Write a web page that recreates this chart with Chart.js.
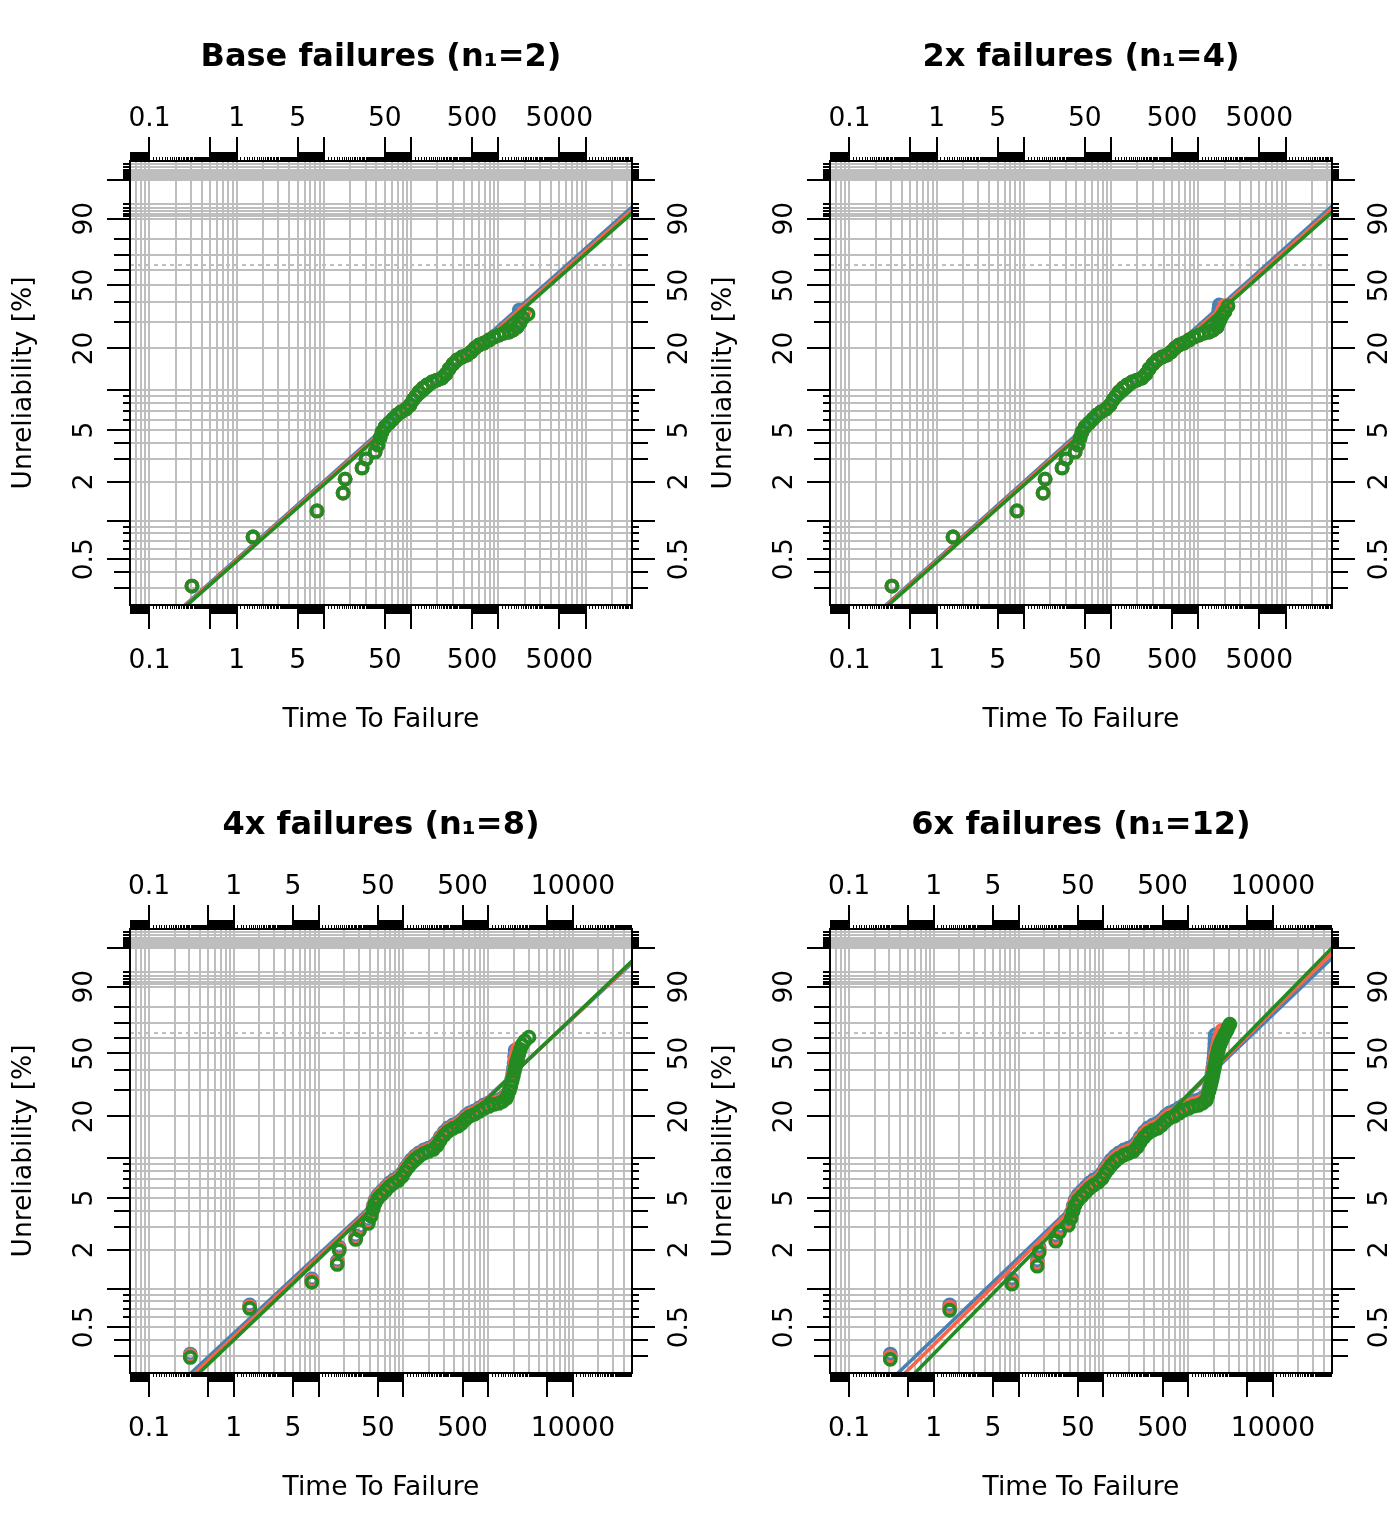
<!DOCTYPE html>
<html>
<head>
<meta charset="utf-8">
<script src="https://cdn.jsdelivr.net/npm/chart.js@4.4.1/dist/chart.umd.min.js"></script>
<style>
  html, body { margin: 0; padding: 0; background: #fff; }
  #wrap { position: relative; width: 1400px; height: 1536px; }
  #wrap canvas { position: absolute; display: block; }
</style>
</head>
<body>
<div id="wrap">
  <canvas id="c1" width="700" height="768" style="left:0;top:0"></canvas>
  <canvas id="c2" width="700" height="768" style="left:700px;top:0"></canvas>
  <canvas id="c3" width="700" height="768" style="left:0;top:768px"></canvas>
  <canvas id="c4" width="700" height="768" style="left:700px;top:768px"></canvas>
</div>
<script>
// ---- values ----
const panelTitles = ['Base failures (n\u2081=2)', '2x failures (n\u2081=4)', '4x failures (n\u2081=8)', '6x failures (n\u2081=12)'];

// x range (time) per row, and the printed x labels
const xRangeTop = [0.0598, 34100];
const xRangeBottom = [0.0597, 49700];
const xLabelsTop = [0.1, 1, 5, 50, 500, 5000];
const xLabelsBottom = [0.1, 1, 5, 50, 500, 10000];

// y axis, unreliability in %
const yLimPct = [0.22, 99.85];
const yLabels = [0.5, 2, 5, 20, 50, 90];
const yLongTicks = [0.5, 1, 2, 5, 10, 20, 50, 90, 99];
const yMidTicks = [0.3, 0.4, 3, 4, 30, 40, 60, 70, 80];
const yShortTicks = [0.6, 0.7, 0.8, 0.9, 6, 7, 8, 9, 91, 92, 93, 94, 95,
  99.1, 99.2, 99.3, 99.4, 99.5, 99.6, 99.7, 99.8];
const charLifePct = 63.2;

// failures common to all panels
const baseTime = [0.307, 1.54, 8.33, 16.6, 17.5, 27.4, 30.4, 38.6, 41.7, 44.0,
  46.4, 50.2, 55.8, 62.0, 68.9, 76.6, 87.4, 97.2, 105, 114,
  123, 137, 152, 174, 198, 226, 251, 272, 302, 336,
  384, 438, 487, 541, 601, 686, 783, 893, 1019, 1163,
  1327, 1475, 1639];
const baseF = [0.309, 0.746, 1.19, 1.64, 2.10, 2.56, 3.00, 3.40, 3.85, 4.35,
  4.83, 5.28, 5.66, 6.07, 6.51, 6.86, 7.22, 7.74, 8.44, 9.04,
  9.68, 10.36, 10.90, 11.47, 11.86, 12.27, 13.12, 14.27, 15.51, 16.56,
  17.39, 17.97, 18.87, 20.13, 21.12, 21.80, 22.86, 23.96, 24.72, 25.50,
  25.90, 26.71, 27.96];
// lower panels: the same failures sit a little lower for red / green
const p3GreenF = [0.291, 0.701, 1.119, 1.542, 1.975, 2.408, 2.823, 3.199, 3.623, 4.095,
  4.547, 4.971, 5.330, 5.717, 6.134, 6.465, 6.805, 7.298, 7.961, 8.529,
  9.134, 9.778, 10.28, 10.82, 11.19, 11.58, 12.38, 13.47, 14.65, 15.65,
  16.44, 16.99, 17.85, 19.05, 19.99, 20.64, 21.65, 22.70, 23.43, 24.17,
  24.55, 25.33, 26.53];
const p3RedF = [0.300, 0.724, 1.155, 1.591, 2.038, 2.484, 2.911, 3.300, 3.737, 4.222,
  4.689, 5.126, 5.495, 5.894, 6.323, 6.664, 7.015, 7.522, 8.204, 8.789,
  9.412, 10.07, 10.59, 11.15, 11.53, 11.93, 12.75, 13.87, 15.08, 16.11,
  16.92, 17.48, 18.36, 19.59, 20.56, 21.23, 22.26, 23.33, 24.07, 24.84,
  25.23, 26.02, 27.25];
const p4GreenF = [0.281, 0.679, 1.084, 1.494, 1.913, 2.332, 2.734, 3.099, 3.510, 3.966,
  4.405, 4.817, 5.164, 5.540, 5.944, 6.265, 6.595, 7.074, 7.717, 8.268,
  8.857, 9.481, 9.970, 10.49, 10.85, 11.23, 12.01, 13.07, 14.22, 15.19,
  15.96, 16.49, 17.33, 18.50, 19.42, 20.05, 21.04, 22.06, 22.77, 23.50,
  23.87, 24.63, 25.81];
const p4RedF = [0.295, 0.713, 1.137, 1.567, 2.007, 2.446, 2.867, 3.249, 3.680, 4.158,
  4.618, 5.049, 5.413, 5.806, 6.228, 6.564, 6.910, 7.410, 8.082, 8.659,
  9.274, 9.925, 10.44, 10.98, 11.36, 11.75, 12.57, 13.67, 14.87, 15.88,
  16.68, 17.24, 18.10, 19.32, 20.28, 20.93, 21.95, 23.02, 23.75, 24.51,
  24.89, 25.68, 26.89];

// late failures (n1 group) per panel and estimate
const p1GreenT = [1775, 1921, 2192], p1GreenF = [29.7, 32.0, 33.9];
const p1RedT = [1740, 1850, 1970], p1RedF = [30.0, 32.5, 35.0];
const p1BlueT = [1700, 1720, 1740], p1BlueF = [30.5, 33.0, 35.9];

const p2GreenT = [1700, 1780, 1870, 2020, 2190], p2GreenF = [29.5, 31.2, 33.0, 35.0, 38.0];
const p2RedT = [1690, 1750, 1820, 1900, 2000], p2RedF = [29.8, 31.8, 33.9, 36.0, 38.2];
const p2BlueT = [1660, 1680, 1700, 1720, 1740], p2BlueF = [29.9, 32.0, 34.2, 36.4, 38.6];

const p3GreenT = [1700, 1780, 1850, 1920, 1980, 2040, 2100, 2160, 2230, 2300, 2400, 2520, 2700, 3030];
const p3GreenTailF = [28.0, 29.8, 32.0, 34.5, 37.0, 39.5, 42.0, 44.5, 47.0, 49.5, 52.5, 55.5, 58.0, 60.5];
const p3RedT = [1700, 1780, 1850, 1910, 1970, 2020, 2060, 2100, 2150, 2240];
const p3RedTailF = [28.4, 30.3, 32.5, 35.0, 37.7, 40.5, 43.5, 46.8, 50.0, 53.0];
const p3BlueT = [1700, 1780, 1850, 1900, 1950, 1990, 2020, 2050, 2080];
const p3BlueTailF = [28.8, 30.8, 33.0, 35.5, 38.2, 41.0, 44.0, 48.0, 52.0];

const p4GreenT = [1700, 1760, 1820, 1870, 1920, 1960, 2000, 2040, 2080, 2120, 2160,
  2200, 2250, 2300, 2370, 2450, 2550, 2650, 2780, 2900, 3000, 3100];
const p4GreenTailF = [27.5, 29.5, 31.5, 33.5, 35.5, 37.5, 39.5, 41.5, 43.5, 45.5, 47.5,
  49.5, 51.5, 53.5, 55.5, 57.5, 59.5, 61.5, 63.5, 65.5, 67.5, 69.0];
const p4RedT = [1700, 1760, 1820, 1870, 1920, 1960, 2000, 2040, 2080, 2120, 2170, 2220, 2280, 2350, 2420, 2500];
const p4RedTailF = [28.0, 30.2, 32.5, 34.8, 37.0, 39.5, 42.0, 44.5, 47.0, 49.5, 52.0, 54.5, 57.0, 59.5, 62.0, 65.0];
const p4BlueT = [1700, 1760, 1820, 1870, 1910, 1950, 1980, 2010, 2030, 2050, 2060, 2070, 2080];
const p4BlueTailF = [28.5, 31.0, 33.5, 36.0, 38.5, 41.0, 44.0, 47.0, 50.0, 53.0, 56.0, 59.0, 62.0];

// fitted Weibull lines: [time, %] at both ends
const p1FitBlue = [[0.255, 0.22], [34100, 94.16]];
const p1FitRed = [[0.262, 0.22], [34100, 93.22]];
const p1FitGreen = [[0.270, 0.22], [34100, 92.19]];
const p2FitBlue = [[0.262, 0.22], [34100, 94.45]];
const p2FitRed = [[0.270, 0.22], [34100, 93.54]];
const p2FitGreen = [[0.280, 0.22], [34100, 92.55]];
const p3FitBlue = [[0.313, 0.22], [49700, 97.05]];
const p3FitRed = [[0.349, 0.22], [49700, 97.24]];
const p3FitGreen = [[0.389, 0.22], [49700, 97.41]];
const p4FitBlue = [[0.378, 0.22], [49700, 97.89]];
const p4FitRed = [[0.458, 0.22], [49700, 98.53]];
const p4FitGreen = [[0.600, 0.22], [49700, 99.01]];

// ---- drawing ----
Chart.defaults.font.family = "'DejaVu Sans', sans-serif";
Chart.defaults.color = '#000';

const BLUE = '#4682B4', RED = '#FF6347', GREEN = '#228B22', GRID = '#BEBEBE';
const LABEL_FONT = 26.5;

// Weibull probability transform
const wb = p => Math.log(-Math.log(1 - p / 100));

function toXY(T, F) {
  return T.map((t, i) => ({ x: t, y: wb(F[i]) }));
}

function gridX(min, max) {
  let out = [];
  for (let d = Math.floor(Math.log10(min)); d <= Math.ceil(Math.log10(max)); d++) {
    for (let m = 1; m <= 9; m++) {
      let v = m * Math.pow(10, d);
      if (v >= min && v <= max) out.push(v);
    }
  }
  return out;
}

function seg(ctx, x1, y1, x2, y2) {
  ctx.beginPath();
  ctx.moveTo(x1, y1);
  ctx.lineTo(x2, y2);
  ctx.stroke();
}

// tick marks, box and tick labels like the R plot
const probAxes = {
  id: 'probAxes',
  afterDraw(chart, args, opts) {
    const ctx = chart.ctx;
    const a = chart.chartArea;
    const xs = chart.scales.x, ys = chart.scales.y;
    ctx.save();
    ctx.strokeStyle = '#000';

    let d0 = Math.floor(Math.log10(xs.min)), d1 = Math.ceil(Math.log10(xs.max));
    for (let d = d0; d <= d1; d++) {
      for (let m = 10; m < 100; m++) {
        let t = m * Math.pow(10, d - 1);
        if (t < xs.min || t > xs.max * 1.001) continue;
        let px = xs.getPixelForValue(t);
        let len = 4, lw = 1;
        if (m === 10 || m === 50) { len = 24; lw = 2; }
        else if (m > 50) { len = 9; }
        ctx.lineWidth = lw;
        let x = lw === 1 ? Math.round(px) + 0.5 : Math.round(px);
        seg(ctx, x, a.top, x, a.top - len);
        seg(ctx, x, a.bottom, x, a.bottom + len);
      }
    }

    ctx.lineWidth = 2;
    [[yLongTicks, 23], [yMidTicks, 16], [yShortTicks, 7]].forEach(([list, len]) => {
      list.forEach(v => {
        let py = Math.round(ys.getPixelForValue(wb(v)));
        seg(ctx, a.left, py, a.left - len, py);
        seg(ctx, a.right, py, a.right + len, py);
      });
    });

    ctx.strokeRect(a.left, a.top, a.right - a.left, a.bottom - a.top);

    ctx.fillStyle = '#000';
    ctx.font = LABEL_FONT + 'px "DejaVu Sans"';
    ctx.textAlign = 'center';
    ctx.textBaseline = 'middle';
    opts.xLabels.forEach(v => {
      let px = xs.getPixelForValue(v);
      ctx.fillText(String(v), px, a.top - 42);
      ctx.fillText(String(v), px, a.bottom + 56.5);
    });
    yLabels.forEach(v => {
      let py = ys.getPixelForValue(wb(v));
      [a.left - 45, a.right + 48].forEach(x => {
        ctx.save();
        ctx.translate(x, py);
        ctx.rotate(-Math.PI / 2);
        ctx.fillText(String(v), 0, 0);
        ctx.restore();
      });
    });
    ctx.restore();
  }
};

function pointSet(T, F, color, order) {
  return {
    data: toXY(T, F), order: order,
    showLine: false, pointStyle: 'circle', pointRadius: 5.5, pointBorderWidth: 3.8,
    pointBorderColor: color, pointBackgroundColor: 'rgba(0,0,0,0)'
  };
}

function fitSet(fit, color, order) {
  return {
    data: fit.map(p => ({ x: p[0], y: wb(p[1]) })), order: order,
    showLine: true, borderColor: color, borderWidth: 3.6, pointRadius: 0, clip: 0
  };
}

function makeChart(id, p) {
  let yMin = wb(yLimPct[0]), yMax = wb(yLimPct[1]);
  let allY = [].concat(yLongTicks, yMidTicks, yShortTicks);
  let datasets = [
    fitSet(p.fitGreen, GREEN, 0),
    pointSet(p.green[0], p.green[1], GREEN, 1),
    fitSet(p.fitRed, RED, 2),
    pointSet(p.red[0], p.red[1], RED, 3),
    fitSet(p.fitBlue, BLUE, 4),
    pointSet(p.blue[0], p.blue[1], BLUE, 5),
    {
      data: [{ x: p.xr[0], y: wb(charLifePct) }, { x: p.xr[1], y: wb(charLifePct) }], order: 9,
      showLine: true, borderColor: '#BEBEBE', borderWidth: 2, borderDash: [4, 4], pointRadius: 0
    }
  ];
  new Chart(document.getElementById(id), {
    type: 'scatter',
    data: { datasets: datasets },
    options: {
      responsive: false, animation: false, devicePixelRatio: 1, events: [],
      layout: { padding: 0 },
      plugins: {
        legend: { display: false },
        tooltip: { enabled: false },
        title: {
          display: true, text: p.title, fullSize: false, color: '#000',
          font: { size: 32, weight: 'bold' }, padding: { top: 38.8, bottom: 0 }
        },
        probAxes: { xLabels: p.xl }
      },
      scales: {
        x: {
          type: 'logarithmic', position: 'bottom', min: p.xr[0], max: p.xr[1],
          afterBuildTicks: s => { s.ticks = gridX(p.xr[0], p.xr[1]).map(v => ({ value: v })); },
          ticks: { display: false },
          grid: { color: GRID, lineWidth: 2, drawTicks: false },
          border: { display: false },
          title: { display: true, text: 'Time To Failure', font: { size: LABEL_FONT }, padding: { top: 0, bottom: 32.1 } },
          afterFit: s => { s.height = 163; }
        },
        x2: {
          type: 'logarithmic', position: 'top', min: p.xr[0], max: p.xr[1],
          ticks: { display: false }, grid: { display: false, drawTicks: false }, border: { display: false },
          afterFit: s => { s.height = 83.8; }
        },
        y: {
          type: 'linear', position: 'left', min: yMin, max: yMax,
          afterBuildTicks: s => { s.ticks = allY.map(v => ({ value: wb(v) })); },
          ticks: { display: false },
          grid: { color: GRID, lineWidth: 2, drawTicks: false },
          border: { display: false },
          title: { display: true, text: 'Unreliability [%]', font: { size: LABEL_FONT }, padding: { top: 8.6, bottom: 0 } },
          afterFit: s => { s.width = 130; }
        },
        y2: {
          type: 'linear', position: 'right', min: yMin, max: yMax,
          ticks: { display: false }, grid: { display: false, drawTicks: false }, border: { display: false },
          afterFit: s => { s.width = 68; }
        }
      }
    },
    plugins: [probAxes]
  });
}

makeChart('c1', {
  title: panelTitles[0], xr: xRangeTop, xl: xLabelsTop,
  blue: [baseTime.concat(p1BlueT), baseF.concat(p1BlueF)],
  red: [baseTime.concat(p1RedT), baseF.concat(p1RedF)],
  green: [baseTime.concat(p1GreenT), baseF.concat(p1GreenF)],
  fitBlue: p1FitBlue, fitRed: p1FitRed, fitGreen: p1FitGreen
});
makeChart('c2', {
  title: panelTitles[1], xr: xRangeTop, xl: xLabelsTop,
  blue: [baseTime.concat(p2BlueT), baseF.concat(p2BlueF)],
  red: [baseTime.concat(p2RedT), baseF.concat(p2RedF)],
  green: [baseTime.concat(p2GreenT), baseF.concat(p2GreenF)],
  fitBlue: p2FitBlue, fitRed: p2FitRed, fitGreen: p2FitGreen
});
makeChart('c3', {
  title: panelTitles[2], xr: xRangeBottom, xl: xLabelsBottom,
  blue: [baseTime.concat(p3BlueT), baseF.concat(p3BlueTailF)],
  red: [baseTime.concat(p3RedT), p3RedF.concat(p3RedTailF)],
  green: [baseTime.concat(p3GreenT), p3GreenF.concat(p3GreenTailF)],
  fitBlue: p3FitBlue, fitRed: p3FitRed, fitGreen: p3FitGreen
});
makeChart('c4', {
  title: panelTitles[3], xr: xRangeBottom, xl: xLabelsBottom,
  blue: [baseTime.concat(p4BlueT), baseF.concat(p4BlueTailF)],
  red: [baseTime.concat(p4RedT), p4RedF.concat(p4RedTailF)],
  green: [baseTime.concat(p4GreenT), p4GreenF.concat(p4GreenTailF)],
  fitBlue: p4FitBlue, fitRed: p4FitRed, fitGreen: p4FitGreen
});
</script>
</body>
</html>
